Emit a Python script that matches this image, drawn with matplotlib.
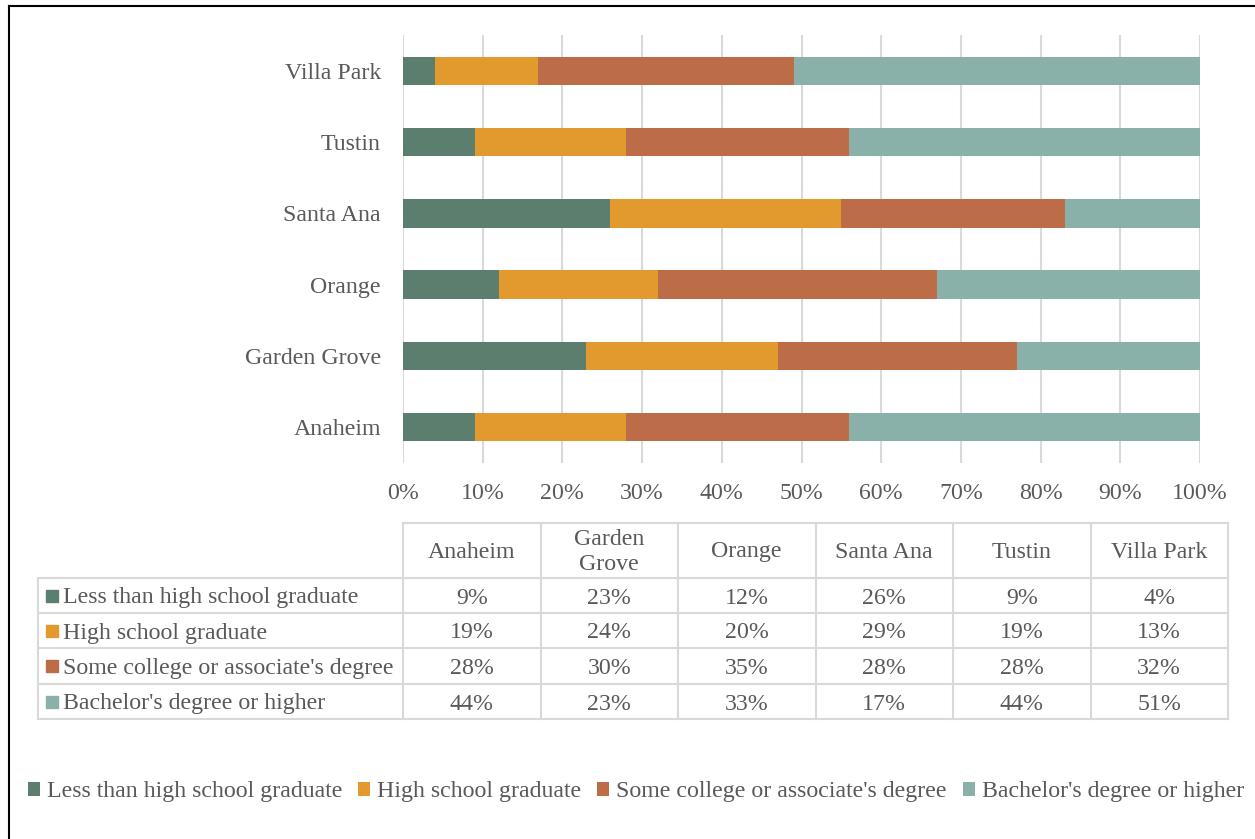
import numpy as np
import matplotlib.pyplot as plt
from matplotlib.lines import Line2D
from matplotlib.patches import Rectangle

plt.rcParams['font.family'] = ['Liberation Serif', 'DejaVu Serif']

cities = ['Anaheim', 'Garden Grove', 'Orange', 'Santa Ana', 'Tustin', 'Villa Park']
header_labels = ['Anaheim', 'Garden\nGrove', 'Orange', 'Santa Ana', 'Tustin', 'Villa Park']
categories = ['Less than high school graduate', 'High school graduate',
              "Some college or associate's degree", "Bachelor's degree or higher"]

less_hs = [9, 23, 12, 26, 9, 4]
hs_grad = [19, 24, 20, 29, 19, 13]
some_college = [28, 30, 35, 28, 28, 32]
bachelors = [44, 23, 33, 17, 44, 51]

colors = ['#5B7E6F', '#E2992D', '#BC6C47', '#8AB0AA']
text_color = '#595959'
grid_color = '#D9D9D9'
fs = 17.2

W, H = 1255, 839
fig = plt.figure(figsize=(W / 100, H / 100), dpi=100)

# chart area
ax = fig.add_axes([403 / W, 1 - 462.6 / H, 797 / W, 427.2 / H])
series = [less_hs, hs_grad, some_college, bachelors]
ypos = np.arange(len(cities))
left = np.zeros(len(cities))
bars = []
for vals, col, lab in zip(series, colors, categories):
    v = np.array(vals) / 100.0
    b = ax.barh(ypos, v, height=0.4, left=left, color=col, label=lab, zorder=3)
    bars.append(b)
    left = left + v

ax.set_xlim(0, 1)
ax.set_ylim(-0.5, len(cities) - 0.5)
ax.set_xticks(np.arange(0, 1.01, 0.1))
ax.set_xticklabels(['%d%%' % round(t * 100) for t in np.arange(0, 1.01, 0.1)])
ax.set_yticks(ypos)
ax.set_yticklabels(cities)
ax.tick_params(axis='both', length=0, labelsize=fs, labelcolor=text_color)
ax.tick_params(axis='y', pad=16)
ax.tick_params(axis='x', pad=14.5)
ax.grid(axis='x', color=grid_color, linewidth=1.5, zorder=0)
for s in ax.spines.values():
    s.set_visible(False)

# data table under the chart
tax = fig.add_axes([0, 0, 1, 1])
tax.set_xlim(0, W)
tax.set_ylim(H, 0)
tax.axis('off')

col_edges = np.linspace(403, 1228, len(cities) + 1)
row_edges = [578, 613, 648, 684, 719]
lw = 1.5
tax.plot([403, 1228], [523, 523], color=grid_color, lw=lw)
for y in row_edges:
    tax.plot([38, 1228], [y, y], color=grid_color, lw=lw)
tax.plot([38, 38], [578, 719], color=grid_color, lw=lw)
for x in col_edges:
    tax.plot([x, x], [523, 719], color=grid_color, lw=lw)

col_centers = (col_edges[:-1] + col_edges[1:]) / 2
for xc, lab in zip(col_centers, header_labels):
    tax.text(xc, 552, lab, ha='center', va='center', fontsize=fs,
             color=text_color, linespacing=1.3)

for i, (vals, col, lab) in enumerate(zip(series, colors, categories)):
    yc = (row_edges[i] + row_edges[i + 1]) / 2
    tax.add_patch(Rectangle((46, yc - 6), 12, 12, color=col))
    tax.text(63, yc + 2.5, lab, ha='left', va='center', fontsize=fs, color=text_color)
    for xc, v in zip(col_centers, vals):
        tax.text(xc, yc + 2.5, '%d%%' % v, ha='center', va='center', fontsize=fs,
                 color=text_color)

# legend at the bottom
leg = fig.legend(handles=bars, labels=categories, loc='center', ncol=4,
                 bbox_to_anchor=(636 / W, 1 - 792 / H), frameon=False,
                 fontsize=fs, handlelength=0.5, handleheight=0.5,
                 handletextpad=0.3, columnspacing=0.66)
for t in leg.get_texts():
    t.set_color(text_color)

# outer border (left and top)
fig.add_artist(Line2D([9 / W, 9 / W], [0, 1 - 6 / H], color='black', lw=1.5))
fig.add_artist(Line2D([9 / W, 1], [1 - 6 / H, 1 - 6 / H], color='black', lw=1.5))

fig.savefig('out.png', dpi=100)
